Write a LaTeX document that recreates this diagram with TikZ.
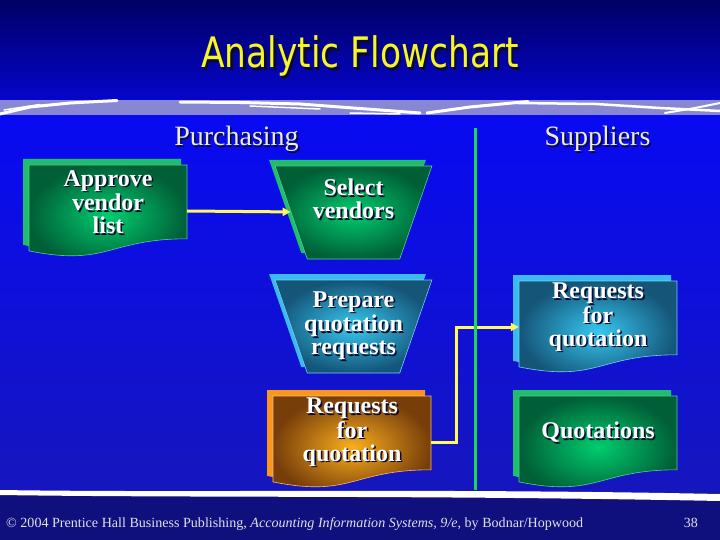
\documentclass[tikz,border=0pt]{standalone}
\usepackage{fontspec}
\setmainfont{Liberation Serif}
\newfontfamily\titlefont{DejaVu Sans}
\usetikzlibrary{shapes.geometric,arrows.meta}
\definecolor{navytop}{RGB}{0,0,100}
\definecolor{navymid}{RGB}{5,5,205}
\definecolor{bandc}{RGB}{135,135,212}
\definecolor{bluetop}{RGB}{8,10,242}
\definecolor{bluebot}{RGB}{22,22,190}
\definecolor{footc}{RGB}{15,15,125}
\definecolor{titley}{RGB}{245,245,40}
\definecolor{shadowc}{RGB}{10,10,45}
\definecolor{headc}{RGB}{235,235,245}
\definecolor{grin}{RGB}{0,205,110}
\definecolor{grout}{RGB}{0,95,55}
\definecolor{grback}{RGB}{30,190,110}
\definecolor{grline}{RGB}{80,210,140}
\definecolor{blin}{RGB}{55,200,240}
\definecolor{blout}{RGB}{20,85,120}
\definecolor{blback}{RGB}{60,185,240}
\definecolor{blline}{RGB}{110,210,245}
\definecolor{orin}{RGB}{250,175,30}
\definecolor{orout}{RGB}{120,62,10}
\definecolor{orback}{RGB}{250,150,30}
\definecolor{orline}{RGB}{250,190,90}
\definecolor{conny}{RGB}{255,250,90}
\definecolor{lanec}{RGB}{30,215,80}
\definecolor{foott}{RGB}{225,225,235}
\newcommand\shd[1]{\leavevmode\rlap{\kern1.6pt\raisebox{-1.6pt}{\textcolor{shadowc}{#1}}}#1}
\newcommand\shdb[1]{\leavevmode\rlap{\kern3pt\raisebox{-2.5pt}{\textcolor{shadowc}{#1}}}#1}
\newcommand\docpath[2]{(#1,#2) -- (#1+158,#2) -- (#1+158,#2+73.8) .. controls (#1+79,#2+73.8) and (#1+79,#2+101.8) .. (#1,#2+85.9) -- cycle}
\begin{document}
\begin{tikzpicture}[x=1pt,y=-1pt,
  boxtext/.style={text=white, font=\fontsize{24}{23}\selectfont\bfseries, align=center, inner sep=0pt},
  anchorbox/.style={minimum width=158pt, minimum height=92pt, inner sep=0pt},
  trapbox/.style={trapezium, trapezium stretches=true, shape border rotate=180,
     trapezium left angle=67, trapezium right angle=67,
     minimum width=157pt, minimum height=93pt, inner sep=2pt},
  conn/.style={draw=conny, line width=3pt, -{Triangle[length=8pt,width=8pt]}},
  head/.style={text=headc, font=\fontsize{28}{30}\selectfont, inner sep=0pt, anchor=base},
  foot/.style={text=foott, font=\fontsize{14}{16}\selectfont, inner sep=0pt},
  streak/.style={white, line cap=round, line join=round}]
\useasboundingbox (0,0) rectangle (720,540);
% background
\shade[top color=navytop,bottom color=navymid] (0,0) rectangle (720,100);
\fill[bandc] (0,100) rectangle (720,116);
\shade[top color=bluetop,bottom color=bluebot] (0,116) rectangle (720,493);
\fill[footc] (0,493) rectangle (720,540);
% streaks in band
\draw[streak, line width=3pt] (0,114) -- (30,107) -- (70,103) -- (117,100.5);
\draw[streak, line width=1.5pt] (4,110) -- (40,104.5);
\draw[streak, line width=3pt] (180,102) -- (240,102.5) -- (300,104) -- (340,107) -- (380,110) -- (420,113);
\draw[streak, line width=1.5pt] (250,106) -- (320,109);
\draw[streak, line width=1.5pt] (350,113) -- (400,114);
\draw[streak, line width=3pt] (427,113) -- (470,107) -- (528,101.5);
\draw[streak, line width=2.5pt] (518,103) -- (596,104) -- (660,108) -- (720,111);
\draw[streak, line width=2pt] (665,113) -- (695,108) -- (720,103);
% bottom white wave
\fill[white] (0,490) .. controls (200,493) and (420,488) .. (720,494) -- (720,501) .. controls (420,495) and (200,498) .. (0,495) -- cycle;
% title
\node[text=titley, font=\titlefont\fontsize{42}{46}\selectfont, inner sep=0pt, anchor=base] (title) at (360,68) {\scalebox{0.82}[1]{\shdb{Analytic Flowchart}}};
% headers
\node[head] (purch) at (236.5,146) {\shd{Purchasing}};
\node[head] (supp) at (597.5,146) {\shd{Suppliers}};
% Approve vendor list
\fill[grback] \docpath{23}{159};
\shade[inner color=grin, outer color=grout, draw=grline, line width=0.6pt] \docpath{29}{165};
\node[anchorbox] (approve) at (108,211) {};
\node[boxtext] (approveT) at (108,203) {\shd{Approve}\\\shd{vendor}\\\shd{list}};
% Select vendors
\node[trapbox, fill=grback] (selectB) at (347.5,206.5) {\phantom{M}};
\node[trapbox, inner color=grin, outer color=grout, draw=grline, line width=0.6pt] (select) at (353.5,212.5) {\phantom{M}};
\node[boxtext] (selectT) at (353.5,200) {\shd{Select}\\\shd{vendors}};
% Prepare quotation requests
\node[trapbox, fill=blback] (prepB) at (347.5,320.5) {\phantom{M}};
\node[trapbox, inner color=blin, outer color=blout, draw=blline, line width=0.6pt] (prep) at (353.5,326.5) {\phantom{M}};
\node[boxtext] (prepT) at (353.5,326.5) {\shd{Prepare}\\\shd{quotation}\\\shd{requests}};
% Requests for quotation (suppliers)
\fill[blback] \docpath{513}{275};
\shade[inner color=blin, outer color=blout, draw=blline, line width=0.6pt] \docpath{519}{281};
\node[anchorbox] (reqs) at (598,327) {};
\node[boxtext] (reqsT) at (598,318) {\shd{Requests}\\\shd{for}\\\shd{quotation}};
% Requests for quotation (orange)
\fill[orback] \docpath{267}{390};
\shade[inner color=orin, outer color=orout, draw=orline, line width=0.6pt] \docpath{273}{396};
\node[anchorbox] (orange) at (352,442) {};
\node[boxtext] (orangeT) at (352,433) {\shd{Requests}\\\shd{for}\\\shd{quotation}};
% Quotations
\fill[grback] \docpath{513}{390};
\shade[inner color=grin, outer color=grout, draw=grline, line width=0.6pt] \docpath{519}{396};
\node[anchorbox] (quot) at (598,442) {};
\node[boxtext] (quotT) at (598,433) {\shd{Quotations}};
% connectors
\draw[conn] (approve.east) -- (select);
\draw[conn] (orange.east) -- ++(25,0) |- (reqs.west);
% lane divider
\coordinate (laneTop) at (475,128);
\coordinate (laneBot) at (475,490);
\draw[lanec, line width=3pt] (laneTop) -- (laneBot);
% footer
\node[foot, anchor=base west] (footer) at (6,527) {\resizebox{577pt}{\height}{© 2004 Prentice Hall Business Publishing, \textit{Accounting Information Systems, 9/e}, by Bodnar/Hopwood}};
\node[foot, anchor=base east] (pnum) at (698,527) {38};
\end{tikzpicture}
\end{document}
